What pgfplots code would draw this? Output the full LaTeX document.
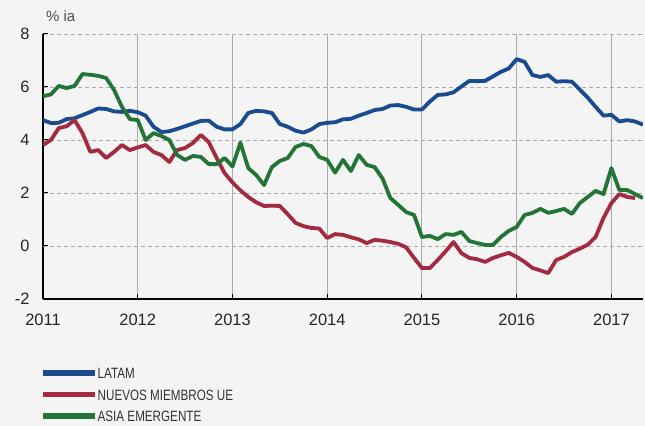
\documentclass[border=0pt]{standalone}
\usepackage{fontspec}
\setmainfont{Liberation Sans}
\newfontfamily\narrowfont{Liberation Sans}[FakeStretch=0.78]
\usepackage{pgfplots}
\pgfplotsset{compat=1.18}
\usepackage{pgfplotstable}
\definecolor{bg}{HTML}{F4F4F4}
\definecolor{cblue}{HTML}{1B4B8F}
\definecolor{cred}{HTML}{A22B40}
\definecolor{cgreen}{HTML}{237537}
\definecolor{gridgray}{HTML}{ABABAB}
\pgfplotstableread{
m latam red green
0 4.75 3.81 5.65
1 4.64 4.00 5.72
2 4.65 4.45 6.04
3 4.79 4.52 5.96
4 4.82 4.75 6.04
5 4.94 4.26 6.49
6 5.06 3.55 6.46
7 5.19 3.62 6.42
8 5.17 3.32 6.34
9 5.08 3.55 5.89
10 5.06 3.81 5.25
11 5.10 3.62 4.79
12 5.05 3.72 4.75
13 4.92 3.81 4.00
14 4.50 3.55 4.26
15 4.30 3.43 4.15
16 4.33 3.17 4.00
17 4.42 3.62 3.43
18 4.52 3.70 3.25
19 4.62 3.89 3.40
20 4.72 4.19 3.36
21 4.73 3.92 3.09
22 4.50 3.32 3.09
23 4.40 2.75 3.32
24 4.40 2.40 3.00
25 4.60 2.10 3.90
26 5.02 1.85 2.94
27 5.10 1.65 2.68
28 5.08 1.51 2.30
29 5.02 1.52 2.98
30 4.60 1.51 3.21
31 4.50 1.20 3.32
32 4.35 0.87 3.74
33 4.28 0.75 3.85
34 4.40 0.68 3.77
35 4.60 0.66 3.36
36 4.65 0.30 3.25
37 4.67 0.45 2.77
38 4.78 0.42 3.25
39 4.80 0.33 2.83
40 4.92 0.25 3.43
41 5.02 0.11 3.06
42 5.13 0.23 2.98
43 5.17 0.20 2.55
44 5.30 0.15 1.81
45 5.32 0.08 1.55
46 5.25 -0.05 1.28
47 5.15 -0.45 1.17
48 5.15 -0.83 0.34
49 5.45 -0.83 0.38
50 5.70 -0.53 0.26
51 5.72 -0.20 0.45
52 5.80 0.15 0.42
53 6.02 -0.27 0.53
54 6.23 -0.45 0.19
55 6.22 -0.50 0.11
56 6.23 -0.60 0.04
57 6.40 -0.45 0.04
58 6.57 -0.35 0.34
59 6.70 -0.26 0.57
60 7.05 -0.41 0.72
61 6.95 -0.60 1.17
62 6.45 -0.83 1.25
63 6.38 -0.92 1.40
64 6.45 -1.02 1.25
65 6.20 -0.53 1.32
66 6.22 -0.41 1.40
67 6.20 -0.23 1.21
68 5.90 -0.10 1.62
69 5.60 0.05 1.85
70 5.25 0.34 2.08
71 4.92 1.06 1.96
72 4.95 1.62 2.94
73 4.70 1.96 2.11
74 4.75 1.85 2.11
75 4.70 1.81 1.96
76 4.58 nan 1.81
}\datatable
\begin{document}
\begin{tikzpicture}
\fill[bg] (0,0) rectangle (645bp,426bp);
\begin{axis}[
  at={(43bp,127bp)}, anchor=south west,
  scale only axis, width=600bp, height=265bp,
  xmin=0, xmax=76, ymin=-2, ymax=8,
  axis x line*=bottom, axis y line*=left,
  axis line style={black, line width=1.1bp, -},
  xtick={0,12,...,72}, xticklabels={2011,2012,2013,2014,2015,2016,2017},
  ytick={-2,0,2,4,6,8}, yticklabels={-2,0,2,4,6,8},
  tick align=inside, major tick length=5bp,
  tick style={black, line width=1bp},
  xmajorgrids, x grid style={gridgray, line width=1bp},
  ymajorgrids, y grid style={gridgray, line width=0.9bp, dash pattern=on 4bp off 3bp},
  extra y ticks={0}, extra y tick labels={},
  extra y tick style={grid=major, major grid style={solid, black!80, line width=1.2bp}, major tick length=0pt},
  ticklabel style={font=\fontsize{16.5}{19}\selectfont, text=black!85},
  xticklabel style={yshift=-12bp},
  yticklabel style={xshift=-10bp},
  legend style={at={(-0.005,-0.2585)}, anchor=north west, draw=none, fill=none,
    font=\narrowfont\fontsize{15}{17}\selectfont, text=black!80,
    inner sep=0pt, row sep=8.5bp,
    nodes={inner sep=0pt, text height=11bp, text depth=0bp},
    /tikz/every even column/.style={column sep=3bp}},
  legend cell align=left,
  legend image code/.code={\path (0bp,-5.5bp); \draw[#1, line width=5.5bp] (0bp,0bp) -- (52bp,0bp);},
  every axis plot/.append style={line width=3.8bp, line join=round},
]
\addplot[cblue] table[x=m, y=latam] {\datatable};
\addlegendentry{LATAM}
\addplot[cred] table[x=m, y=red] {\datatable};
\addlegendentry{NUEVOS MIEMBROS UE}
\addplot[cgreen] table[x=m, y=green] {\datatable};
\addlegendentry{ASIA EMERGENTE}
\end{axis}
\node[anchor=base west, font=\fontsize{15}{17}\selectfont, text=black!70, inner sep=0pt] at (46bp,404bp) {\% ia};
\pgfresetboundingbox
\path (0,0) rectangle (645bp,426bp);
\end{tikzpicture}
\end{document}
